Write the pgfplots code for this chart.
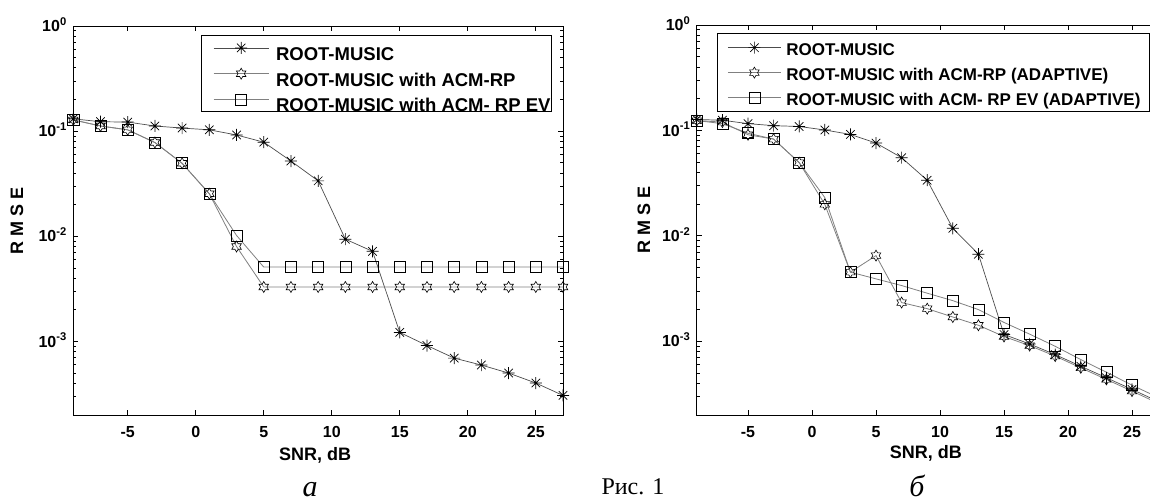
\documentclass[border=0pt]{standalone}
\usepackage{pgfplots}
\pgfplotsset{compat=1.18}
\usepackage{fontspec}
\setmainfont{Liberation Sans}
\newfontfamily\capfont{Liberation Serif}

\pgfdeclareplotmark{mstar}{%
  \pgfpathmoveto{\pgfpoint{-\pgfplotmarksize}{0pt}}\pgfpathlineto{\pgfpoint{\pgfplotmarksize}{0pt}}%
  \pgfpathmoveto{\pgfpoint{0pt}{-\pgfplotmarksize}}\pgfpathlineto{\pgfpoint{0pt}{\pgfplotmarksize}}%
  \pgfpathmoveto{\pgfpoint{-.707\pgfplotmarksize}{-.707\pgfplotmarksize}}\pgfpathlineto{\pgfpoint{.707\pgfplotmarksize}{.707\pgfplotmarksize}}%
  \pgfpathmoveto{\pgfpoint{-.707\pgfplotmarksize}{.707\pgfplotmarksize}}\pgfpathlineto{\pgfpoint{.707\pgfplotmarksize}{-.707\pgfplotmarksize}}%
  \pgfusepathqstroke}
\pgfdeclareplotmark{hexagram}{%
  \pgfpathmoveto{\pgfpointpolar{90}{\pgfplotmarksize}}%
  \pgfpathlineto{\pgfpointpolar{120}{0.577\pgfplotmarksize}}%
  \pgfpathlineto{\pgfpointpolar{150}{\pgfplotmarksize}}%
  \pgfpathlineto{\pgfpointpolar{180}{0.577\pgfplotmarksize}}%
  \pgfpathlineto{\pgfpointpolar{210}{\pgfplotmarksize}}%
  \pgfpathlineto{\pgfpointpolar{240}{0.577\pgfplotmarksize}}%
  \pgfpathlineto{\pgfpointpolar{270}{\pgfplotmarksize}}%
  \pgfpathlineto{\pgfpointpolar{300}{0.577\pgfplotmarksize}}%
  \pgfpathlineto{\pgfpointpolar{330}{\pgfplotmarksize}}%
  \pgfpathlineto{\pgfpointpolar{0}{0.577\pgfplotmarksize}}%
  \pgfpathlineto{\pgfpointpolar{30}{\pgfplotmarksize}}%
  \pgfpathlineto{\pgfpointpolar{60}{0.577\pgfplotmarksize}}%
  \pgfpathclose\pgfusepathqstroke}

\tikzset{
  srm/.style={color=gray!60!black, line width=0.7pt, mark=mstar, mark size=6pt, mark options={black, line width=0.7pt}},
  srp/.style={color=gray, line width=0.8pt, mark=hexagram, mark size=5.5pt, mark options={black, line width=0.6pt}},
  sev/.style={color=gray, line width=0.8pt, mark=square, mark size=5.5pt, mark options={black, line width=0.6pt}},
}

\begin{document}
\begin{tikzpicture}
% ---------- left (a) ----------
\begin{axis}[
  scale only axis, ymode=log,
  xmin=-9, xmax=27, ymin=2e-4, ymax=1,
  xtick={-5,0,5,10,15,20,25}, xticklabels={-5,0,5,10,15,20,25},
  ytick={1e-3,1e-2,1e-1,1},
  yticklabels={10\textsuperscript{-3},10\textsuperscript{-2},10\textsuperscript{-1},10\textsuperscript{0}},
  minor ytick={2e-4,3e-4,4e-4,5e-4,6e-4,7e-4,8e-4,9e-4,2e-3,3e-3,4e-3,5e-3,6e-3,7e-3,8e-3,9e-3,2e-2,3e-2,4e-2,5e-2,6e-2,7e-2,8e-2,9e-2,0.2,0.3,0.4,0.5,0.6,0.7,0.8,0.9},
  tick align=inside, major tick length=5pt, minor tick length=3pt,
  tick style={black, line width=0.8pt},
  tick label style={font=\fontsize{16}{19}\selectfont\bfseries},
  xticklabel style={yshift=-8pt},
  yticklabel style={anchor=base east, yshift=-5.6pt, xshift=-3pt},
  label style={font=\fontsize{18}{21}\selectfont\bfseries},
  axis line style={line width=1pt},
  xlabel={SNR, dB}, ylabel={R M S E},
  legend cell align=left,
  at={(73.3pt,86pt)}, anchor=south west, width=489.7pt, height=389pt,
  xlabel style={at={(axis description cs:0.4936,-0.1046)}, anchor=center},
  ylabel style={at={(axis description cs:-0.115,0.5)}, anchor=center},
  legend image code/.code={\path (0pt,0pt) (73pt,0pt); \draw[mark repeat=2,mark phase=2,#1] plot coordinates {(11pt,0pt) (38.5pt,0pt) (66pt,0pt)};},
  legend style={at={(axis description cs:0.9775,0.977)}, anchor=north east,
    draw=black, line width=1pt, fill=white, inner xsep=1pt, inner ysep=0pt,
    font=\fontsize{18.5}{21}\selectfont\bfseries, column sep=0pt,
    nodes={inner xsep=0pt, inner ysep=0pt, text height=24.9pt, text depth=0pt},
    row sep=0.9pt},
]
\addplot[srm] coordinates {(-9,0.131)(-7,0.123)(-5,0.122)(-3,0.112)(-1,0.107)(1,0.103)(3,0.092)(5,0.0786)(7,0.052)(9,0.0337)(11,0.0094)(13,0.0072)(15,0.00122)(17,0.000916)(19,0.000695)(21,0.000597)(23,0.000501)(25,0.000403)(27,0.000307)};
\addlegendentry{ROOT-MUSIC}
\addplot[srp] coordinates {(-9,0.128)(-7,0.112)(-5,0.103)(-3,0.078)(-1,0.0495)(1,0.0254)(3,0.0080)(5,0.0033)(7,0.0033)(9,0.0033)(11,0.0033)(13,0.0033)(15,0.0033)(17,0.0033)(19,0.0033)(21,0.0033)(23,0.0033)(25,0.0033)(27,0.0033)};
\addlegendentry{ROOT-MUSIC with ACM-RP}
\addplot[sev] coordinates {(-9,0.128)(-7,0.112)(-5,0.103)(-3,0.078)(-1,0.0495)(1,0.0254)(3,0.0102)(5,0.0051)(7,0.0051)(9,0.0051)(11,0.0051)(13,0.0051)(15,0.0051)(17,0.0051)(19,0.0051)(21,0.0051)(23,0.0051)(25,0.0051)(27,0.0051)};
\addlegendentry{ROOT-MUSIC with ACM- RP EV}
\end{axis}
% ---------- right (b) ----------
\begin{axis}[
  scale only axis, ymode=log,
  xmin=-9, xmax=27, ymin=2e-4, ymax=1,
  xtick={-5,0,5,10,15,20,25}, xticklabels={-5,0,5,10,15,20,25},
  ytick={1e-3,1e-2,1e-1,1},
  yticklabels={10\textsuperscript{-3},10\textsuperscript{-2},10\textsuperscript{-1},10\textsuperscript{0}},
  minor ytick={2e-4,3e-4,4e-4,5e-4,6e-4,7e-4,8e-4,9e-4,2e-3,3e-3,4e-3,5e-3,6e-3,7e-3,8e-3,9e-3,2e-2,3e-2,4e-2,5e-2,6e-2,7e-2,8e-2,9e-2,0.2,0.3,0.4,0.5,0.6,0.7,0.8,0.9},
  tick align=inside, major tick length=5pt, minor tick length=3pt,
  tick style={black, line width=0.8pt},
  tick label style={font=\fontsize{16}{19}\selectfont\bfseries},
  xticklabel style={yshift=-8pt},
  yticklabel style={anchor=base east, yshift=-5.6pt, xshift=-3pt},
  label style={font=\fontsize{18}{21}\selectfont\bfseries},
  axis line style={line width=1pt},
  xlabel={SNR, dB}, ylabel={R M S E},
  legend cell align=left,
  at={(696.8pt,86pt)}, anchor=south west, width=460.8pt, height=390pt,
  xlabel style={at={(axis description cs:0.497,-0.0974)}, anchor=center},
  ylabel style={at={(axis description cs:-0.1146,0.5)}, anchor=center},
  legend image code/.code={\path (0pt,0pt) (59pt,0pt); \draw[mark repeat=2,mark phase=2,#1] plot coordinates {(1pt,0pt) (27.5pt,0pt) (54pt,0pt)};},
  legend style={at={(axis description cs:0.0438,0.979)}, anchor=north west,
    draw=black, line width=1pt, fill=white, inner xsep=9pt, inner ysep=5.7pt,
    font=\fontsize{17}{20}\selectfont\bfseries, column sep=0pt,
    nodes={inner xsep=0pt, inner ysep=0pt, text height=16.5pt, text depth=0pt},
    row sep=8.5pt},
]
\addplot[srm] coordinates {(-9,0.127)(-7,0.125)(-5,0.116)(-3,0.111)(-1,0.109)(1,0.101)(3,0.0917)(5,0.0759)(7,0.0552)(9,0.0337)(11,0.0118)(13,0.0067)(15,0.00116)(17,0.000944)(19,0.000748)(21,0.00058)(23,0.000451)(25,0.00035)(27,0.00027)};
\addlegendentry{ROOT-MUSIC}
\addplot[srp] coordinates {(-9,0.124)(-7,0.12)(-5,0.091)(-3,0.0828)(-1,0.0495)(1,0.0199)(3,0.00453)(5,0.0065)(7,0.00233)(9,0.00204)(11,0.0017)(13,0.00142)(15,0.00111)(17,0.00091)(19,0.000724)(21,0.00056)(23,0.000435)(25,0.000337)(27,0.00026)};
\addlegendentry{ROOT-MUSIC with ACM-RP (ADAPTIVE)}
\addplot[sev] coordinates {(-9,0.124)(-7,0.116)(-5,0.094)(-3,0.0828)(-1,0.0495)(1,0.0231)(3,0.00453)(5,0.00391)(7,0.00338)(9,0.00286)(11,0.00243)(13,0.0020)(15,0.00151)(17,0.00117)(19,0.000897)(21,0.000671)(23,0.000509)(25,0.000384)(27,0.000295)};
\addlegendentry{ROOT-MUSIC with ACM- RP EV (ADAPTIVE)}
\end{axis}
% captions
\node[anchor=base, font=\capfont\itshape\fontsize{30}{34}\selectfont] at (310pt,4.5pt) {а};
\node[anchor=base, font=\capfont\itshape\fontsize{30}{34}\selectfont] at (917pt,4.5pt) {б};
\node[anchor=base west, font=\capfont\fontsize{24}{28}\selectfont] at (598pt,7pt) {Рис. 1};
\pgfresetboundingbox
\path (0pt,0pt) rectangle (1150pt,501pt);
\end{tikzpicture}
\end{document}
